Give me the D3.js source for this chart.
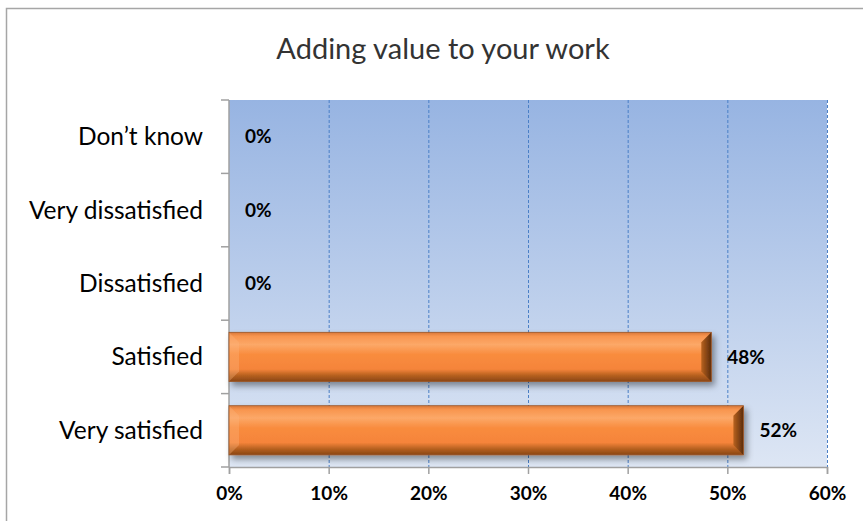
<!DOCTYPE html>
<html>
<head>
<meta charset="utf-8">
<script src="https://cdn.jsdelivr.net/npm/d3@7"></script>
<style>
  body { margin: 0; background: #fff; }
  svg { display: block; }
</style>
</head>
<body>
<div id="chart"></div>
<script>
// data
var categories = ["Don\u2019t know", "Very dissatisfied", "Dissatisfied", "Satisfied", "Very satisfied"];
var values = [0, 0, 0, 48.39, 51.61];
var valueLabels = ["0%", "0%", "0%", "48%", "52%"];
var xTicks = [0, 10, 20, 30, 40, 50, 60];
var title = "Adding value to your work";

var W = 863, H = 521;
var margin = {top: 100, right: 36, bottom: 54, left: 229},
    width = W - margin.left - margin.right,
    height = H - margin.top - margin.bottom;

var svg = d3.select("#chart").append("svg")
  .attr("width", W)
  .attr("height", H);

var defs = svg.append("defs");

// plot background gradient
var bg = defs.append("linearGradient").attr("id", "bgGrad")
  .attr("x1", 0).attr("y1", 0).attr("x2", 0).attr("y2", 1);
bg.append("stop").attr("offset", "0%").attr("stop-color", "#97b4e2");
bg.append("stop").attr("offset", "100%").attr("stop-color", "#dde6f4");

// bar face gradient
var bf = defs.append("linearGradient").attr("id", "barGrad")
  .attr("x1", 0).attr("y1", 0).attr("x2", 0).attr("y2", 1);
bf.append("stop").attr("offset", "0%").attr("stop-color", "#d9783a");
bf.append("stop").attr("offset", "8%").attr("stop-color", "#f8954e");
bf.append("stop").attr("offset", "25%").attr("stop-color", "#fca868");
bf.append("stop").attr("offset", "45%").attr("stop-color", "#f98c3e");
bf.append("stop").attr("offset", "75%").attr("stop-color", "#f5843a");
bf.append("stop").attr("offset", "88%").attr("stop-color", "#b5601f");
bf.append("stop").attr("offset", "100%").attr("stop-color", "#8a4615");

// right end cap gradient
var rc = defs.append("linearGradient").attr("id", "capGrad")
  .attr("x1", 0).attr("y1", 0).attr("x2", 1).attr("y2", 0);
rc.append("stop").attr("offset", "0%").attr("stop-color", "#b8621f");
rc.append("stop").attr("offset", "100%").attr("stop-color", "#5a2c0c");

var shadow = defs.append("filter").attr("id", "shadow")
  .attr("x", "-5%").attr("y", "-20%").attr("width", "115%").attr("height", "160%");
shadow.append("feDropShadow")
  .attr("dx", 3).attr("dy", 4).attr("stdDeviation", 3)
  .attr("flood-color", "#000").attr("flood-opacity", 0.4);

// outer chart frame
svg.append("path")
  .attr("d", "M6.5," + H + "V8.5H" + W)
  .attr("fill", "none")
  .attr("stroke", "#a6a6a6")
  .attr("stroke-width", 1.5);

// title
svg.append("text")
  .attr("x", 443)
  .attr("y", 59)
  .attr("text-anchor", "middle")
  .style("font-family", "Lato, 'Open Sans', sans-serif")
  .style("font-weight", 400)
  .style("font-size", "29px")
  .style("fill", "#333")
  .text(title);

var g = svg.append("g")
  .attr("transform", "translate(" + margin.left + "," + margin.top + ")");

var x = d3.scaleLinear().domain([0, 60]).range([0, width]);
var y = d3.scaleBand().domain(categories).range([0, height]).paddingInner(0.33).paddingOuter(0.165);

g.append("rect")
  .attr("width", width)
  .attr("height", height)
  .attr("fill", "url(#bgGrad)");

// gridlines
g.append("g")
  .selectAll("line")
  .data(xTicks.slice(1))
  .enter().append("line")
  .attr("x1", function(d) { return x(d) + 0.5; })
  .attr("x2", function(d) { return x(d) + 0.5; })
  .attr("y1", 0)
  .attr("y2", height)
  .attr("stroke", "#4a7fc6")
  .attr("stroke-width", 1)
  .attr("stroke-dasharray", "3,2");

// x axis
var xAxis = g.append("g")
  .attr("transform", "translate(0," + height + ")")
  .call(d3.axisBottom(x).tickValues(xTicks).tickSize(7).tickPadding(13)
    .tickFormat(function(d) { return d + "%"; }));
xAxis.select(".domain").attr("stroke", "#a0a0a0").attr("stroke-width", 1.5);
xAxis.selectAll(".tick line").attr("stroke", "#a0a0a0").attr("stroke-width", 1.5);
xAxis.selectAll(".tick text")
  .style("font-family", "Lato, 'Open Sans', sans-serif")
  .style("font-weight", "bold")
  .style("font-size", "19px")
  .style("fill", "#000");

// y axis: ticks at band boundaries
var step = height / categories.length;
var yAxisG = g.append("g");
yAxisG.append("line")
  .attr("x1", 0).attr("x2", 0).attr("y1", 0).attr("y2", height)
  .attr("stroke", "#a0a0a0").attr("stroke-width", 1.5);
yAxisG.selectAll(".yt")
  .data(d3.range(categories.length + 1))
  .enter().append("line")
  .attr("class", "yt")
  .attr("x1", -8).attr("x2", 0)
  .attr("y1", function(d) { return d * step; })
  .attr("y2", function(d) { return d * step; })
  .attr("stroke", "#a0a0a0").attr("stroke-width", 1.5);

yAxisG.selectAll(".ylab")
  .data(categories)
  .enter().append("text")
  .attr("class", "ylab")
  .attr("x", -26)
  .attr("y", function(d) { return y(d) + y.bandwidth() / 2; })
  .attr("dy", "0.35em")
  .attr("text-anchor", "end")
  .style("font-family", "Lato, 'Open Sans', sans-serif")
  .style("font-size", "24.5px")
  .style("fill", "#000")
  .text(function(d) { return d; });

// bars with bevel
var data = categories.map(function(c, i) { return {cat: c, v: values[i], label: valueLabels[i]}; });
var bars = g.append("g").selectAll("g.bar")
  .data(data.filter(function(d) { return d.v > 0; }))
  .enter().append("g")
  .attr("class", "bar")
  .attr("filter", "url(#shadow)");

bars.each(function(d) {
  var sel = d3.select(this);
  var x0 = x(0), x1 = x(d.v), y0 = y(d.cat), y1 = y0 + y.bandwidth();
  var b = 10;
  sel.append("rect")
    .attr("x", x0).attr("y", y0)
    .attr("width", x1 - x0).attr("height", y1 - y0)
    .attr("fill", "url(#barGrad)");
  // left bevel
  sel.append("polygon")
    .attr("points", [[x0, y0], [x0 + b, y0 + b], [x0 + b, y1 - b], [x0, y1]].join(" "))
    .attr("fill", "#fbb47e").attr("opacity", 0.35);
  // right bevel
  sel.append("polygon")
    .attr("points", [[x1, y0], [x1, y1], [x1 - b, y1 - b], [x1 - b, y0 + b]].join(" "))
    .attr("fill", "url(#capGrad)");
  sel.append("rect")
    .attr("x", x0).attr("y", y0)
    .attr("width", x1 - x0).attr("height", y1 - y0)
    .attr("fill", "none")
    .attr("stroke", "#9a5423").attr("stroke-width", 0.8);
});

// value labels
g.append("g").selectAll("text")
  .data(data)
  .enter().append("text")
  .attr("x", function(d) { return x(d.v) + 16; })
  .attr("y", function(d) { return y(d.cat) + y.bandwidth() / 2; })
  .attr("dy", "0.35em")
  .style("font-family", "Lato, 'Open Sans', sans-serif")
  .style("font-weight", "bold")
  .style("font-size", "19px")
  .style("fill", "#000")
  .text(function(d) { return d.label; });
</script>
</body>
</html>
